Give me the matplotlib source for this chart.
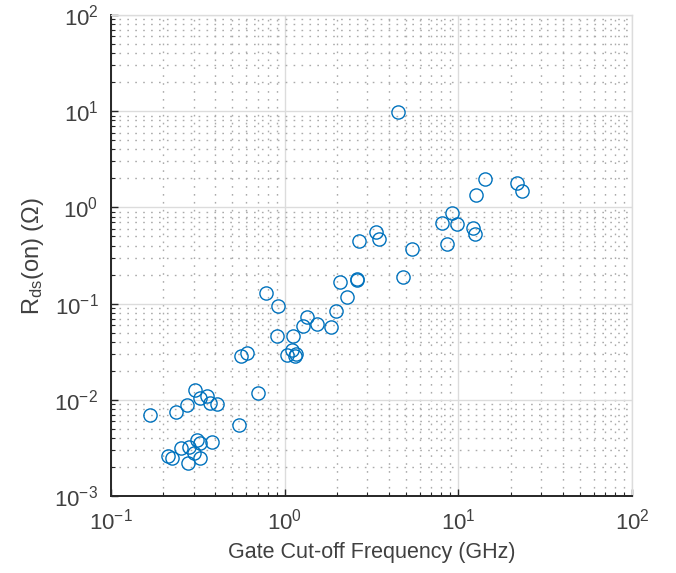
import numpy as np
import matplotlib
matplotlib.use('Agg')
import matplotlib.pyplot as plt
from matplotlib.ticker import LogLocator, NullFormatter

plt.rcParams['font.family'] = ['Liberation Sans', 'DejaVu Sans']
plt.rcParams['mathtext.fontset'] = 'custom'
plt.rcParams['mathtext.rm'] = 'Liberation Sans'
plt.rcParams['mathtext.it'] = 'Liberation Sans:italic'
plt.rcParams['mathtext.bf'] = 'Liberation Sans:bold'

# gate cut-off frequency (GHz) and on-resistance (ohm)
freq = [4.51, 14.2, 21.7, 23.4, 12.7, 9.2, 8.07, 9.77, 12.1, 12.4,
        8.57, 3.36, 3.51, 2.69, 5.38, 4.82, 2.08, 2.62, 2.62, 2.30,
        1.97, 1.85, 1.53, 1.34, 1.27, 0.78, 0.92, 0.90, 1.12, 1.03,
        1.11, 1.16, 1.15, 0.56, 0.61, 0.70, 0.545, 0.303, 0.328, 0.359,
        0.370, 0.407, 0.275, 0.238, 0.167, 0.213, 0.226, 0.255, 0.281, 0.313,
        0.328, 0.380, 0.301, 0.279, 0.325]
rds = [9.9, 1.96, 1.78, 1.49, 1.35, 0.88, 0.69, 0.67, 0.615, 0.53,
       0.417, 0.56, 0.47, 0.45, 0.367, 0.19, 0.169, 0.179, 0.176, 0.118,
       0.084, 0.0566, 0.062, 0.072, 0.058, 0.129, 0.095, 0.046, 0.046, 0.029,
       0.033, 0.030, 0.0286, 0.0286, 0.0304, 0.0119, 0.0055, 0.0127, 0.0104, 0.0111,
       0.0094, 0.00916, 0.0088, 0.0075, 0.0069, 0.00262, 0.00248, 0.00318, 0.00325, 0.00382,
       0.00353, 0.00364, 0.00282, 0.00222, 0.00248]

dark = '#262626'

fig = plt.figure(figsize=(6.76, 5.73), dpi=100)
ax = fig.add_axes([0.164, 0.134, 0.771, 0.840])

ax.plot(freq, rds, 'o', linestyle='none', markersize=9.5, markerfacecolor='none',
        markeredgecolor='#0072BD', markeredgewidth=1.0, zorder=3)

ax.set_xscale('log')
ax.set_yscale('log')
ax.set_xlim(0.1, 100)
ax.set_ylim(1e-3, 100)

ax.xaxis.set_minor_locator(LogLocator(base=10, subs=np.arange(2, 10), numticks=20))
ax.yaxis.set_minor_locator(LogLocator(base=10, subs=np.arange(2, 10), numticks=20))
ax.xaxis.set_minor_formatter(NullFormatter())
ax.yaxis.set_minor_formatter(NullFormatter())

ax.grid(True, which='major', color='#dcdcdc', linestyle='-', linewidth=1.0)
ax.grid(True, which='minor', color='#ababab', linestyle=(0, (1.2, 4.5)), linewidth=1.0)
ax.set_axisbelow(True)

for s in ['left', 'bottom']:
    ax.spines[s].set_color(dark)
    ax.spines[s].set_linewidth(1.4)
for s in ['top', 'right']:
    ax.spines[s].set_color('#dcdcdc')
    ax.spines[s].set_linewidth(1.0)

ax.tick_params(which='major', direction='in', length=5, width=1.0, colors=dark,
               labelsize=16, labelcolor='#404040', pad=9)
ax.tick_params(which='minor', direction='in', length=3, width=0.8, colors=dark)

ax.set_xlabel('Gate Cut-off Frequency (GHz)', fontsize=15.5, color='#404040', labelpad=5)
ax.set_ylabel(r'R$_{\mathdefault{ds}}$(on) ($\Omega$)', fontsize=17, color='#404040', labelpad=6)

fig.savefig('out.png', dpi=100)
